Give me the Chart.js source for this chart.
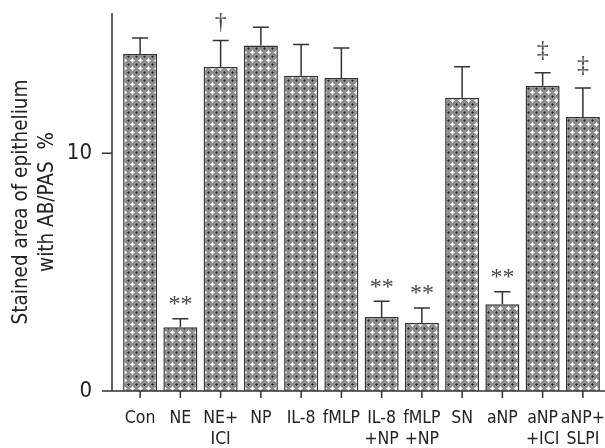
<!DOCTYPE html>
<html>
<head>
<meta charset="utf-8">
<script src="https://cdn.jsdelivr.net/npm/chart.js@4/dist/chart.umd.min.js"></script>
<style>
  html, body { margin: 0; padding: 0; background: #ffffff; }
  #wrap { width: 605px; height: 448px; }
</style>
</head>
<body>
<div id="wrap"><canvas id="chart" width="605" height="448"></canvas></div>
<script>
// groups on the x axis (multi-line labels)
const labels = [
    ["Con"], ["NE"], ["NE+", "ICI"], ["NP"], ["IL-8"], ["fMLP"],
    ["IL-8", "+NP"], ["fMLP", "+NP"], ["SN"], ["aNP"], ["aNP", "+ICI"], ["aNP+", "SLPI"]
];

// stained area (%)
const means = [14.18, 2.68, 13.63, 14.53, 13.26, 13.17, 3.11, 2.86, 12.33, 3.65, 12.84, 11.53];

// error bar length (upper whisker minus bar top)
const errors = [0.67, 0.36, 1.11, 0.77, 1.31, 1.26, 0.66, 0.63, 1.31, 0.53, 0.55, 1.22];

// significance marks above the whiskers
const marks = ["", "**", "\u2020", "", "", "", "**", "**", "", "**", "\u2021", "\u2021"];

const yTicks = [0, 10];
const yMax = 15.9;

const ink = "#333333";
const narrow = "'Liberation Sans Narrow', 'Arial Narrow', 'DejaVu Sans Condensed', sans-serif";

function makePattern() {
    const tile = document.createElement("canvas");
    tile.width = 8;
    tile.height = 8;
    const g = tile.getContext("2d");
    g.fillStyle = "#8e8e8e";
    g.fillRect(0, 0, 8, 8);
    g.fillStyle = "#ffffff";
    g.fillRect(2, 4, 5, 1);
    g.fillRect(4, 2, 1, 5);
    g.fillStyle = "#d6d6d6";
    g.fillRect(3, 3, 1, 1);
    g.fillRect(5, 3, 1, 1);
    g.fillRect(3, 5, 1, 1);
    g.fillRect(5, 5, 1, 1);
    g.fillStyle = "#4a4a4a";
    g.fillRect(1, 0, 1, 1);
    g.fillRect(7, 0, 1, 1);
    g.fillRect(0, 1, 1, 1);
    g.fillRect(0, 7, 1, 1);
    g.fillStyle = "#1e1e1e";
    g.fillRect(0, 0, 1, 1);
    return g.createPattern(tile, "repeat");
}

function noPadding(scale) {
    scale.paddingLeft = 0;
    scale.paddingRight = 0;
    scale.paddingTop = 0;
    scale.paddingBottom = 0;
}

const axisLines = {
    id: "axisLines",
    afterDraw(chart) {
        const { ctx, chartArea, scales: { x, y } } = chart;
        const ax = chartArea.left - 8;
        ctx.save();
        ctx.strokeStyle = ink;
        ctx.lineWidth = 1.5;
        ctx.beginPath();
        ctx.moveTo(ax, chartArea.top);
        ctx.lineTo(ax, chartArea.bottom);
        yTicks.forEach(v => {
            const py = y.getPixelForValue(v);
            ctx.moveTo(ax - 10, py);
            ctx.lineTo(ax, py);
        });
        ctx.moveTo(ax - 10, chartArea.bottom);
        ctx.lineTo(chart.width, chartArea.bottom);
        labels.forEach((_, i) => {
            const px = x.getPixelForValue(i);
            ctx.moveTo(px, chartArea.bottom);
            ctx.lineTo(px, chartArea.bottom + 7);
        });
        ctx.stroke();
        ctx.restore();
    }
};

const errorBars = {
    id: "errorBars",
    afterDatasetsDraw(chart) {
        const { ctx, scales: { y } } = chart;
        const meta = chart.getDatasetMeta(0);
        ctx.save();
        ctx.strokeStyle = ink;
        ctx.lineWidth = 1.5;
        ctx.fillStyle = "#444444";
        ctx.textAlign = "center";
        ctx.textBaseline = "bottom";
        ctx.font = "24px 'Liberation Serif', serif";
        meta.data.forEach((bar, i) => {
            const top = y.getPixelForValue(means[i] + errors[i]);
            ctx.beginPath();
            ctx.moveTo(bar.x, bar.y);
            ctx.lineTo(bar.x, top);
            ctx.moveTo(bar.x - 8, top);
            ctx.lineTo(bar.x + 8, top);
            ctx.stroke();
            if (!marks[i]) return;
            const gap = marks[i] === "**" ? 2 : (marks[i] === "\u2020" ? 6 : 10);
            ctx.fillText(marks[i], bar.x, top - gap);
        });
        ctx.restore();
    }
};

new Chart(document.getElementById("chart"), {
    type: "bar",
    data: {
        labels,
        datasets: [{
            data: means,
            backgroundColor: makePattern(),
            borderColor: ink,
            borderWidth: 1.5,
            categoryPercentage: 1,
            barPercentage: 0.845
        }]
    },
    options: {
        responsive: false,
        animation: false,
        devicePixelRatio: 1,
        layout: {
            padding: { top: 13, right: 2, left: 0, bottom: 0 }
        },
        plugins: {
            legend: { display: false },
            tooltip: { enabled: false }
        },
        scales: {
            x: {
                grid: { display: false, drawTicks: false },
                border: { display: false },
                ticks: {
                    color: "#222222",
                    padding: 17,
                    maxRotation: 0,
                    autoSkip: false,
                    font: { family: narrow, size: 17.5, lineHeight: 1.2 }
                },
                afterFit(scale) {
                    scale.height = 57;
                    noPadding(scale);
                }
            },
            y: {
                min: 0,
                max: yMax,
                grid: { display: false, drawTicks: false },
                border: { display: false },
                afterBuildTicks(scale) { scale.ticks = yTicks.map(v => ({ value: v })); },
                ticks: {
                    color: "#222222",
                    padding: 28,
                    font: { family: narrow, size: 22 }
                },
                title: {
                    display: true,
                    text: ["Stained area of epithelium", "with AB/PAS  %"],
                    color: "#222222",
                    padding: { top: 9, bottom: 0 },
                    font: { family: narrow, size: 20.5, lineHeight: 1.25 }
                },
                afterFit(scale) {
                    scale.width = 120;
                    noPadding(scale);
                }
            }
        }
    },
    plugins: [axisLines, errorBars]
});
</script>
</body>
</html>
